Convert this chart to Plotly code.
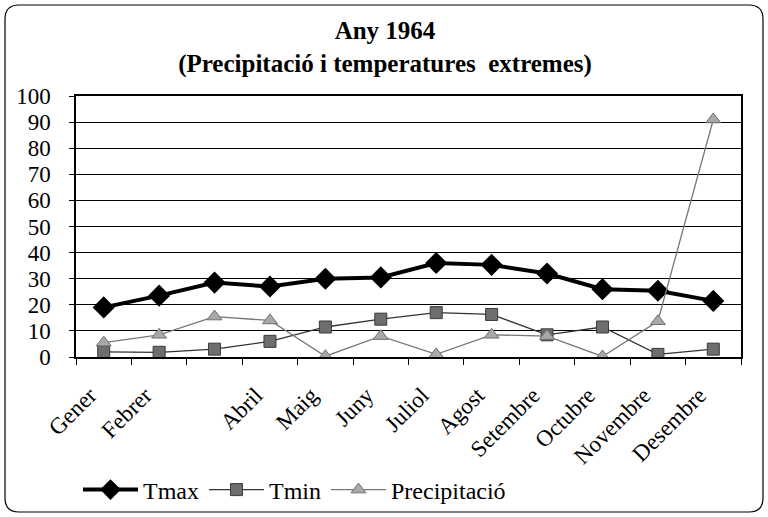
import plotly.graph_objects as go

months = ["Gener", "Febrer", "Març", "Abril", "Maig", "Juny", "Juliol",
          "Agost", "Setembre", "Octubre", "Novembre", "Desembre"]
month_tick_labels = ["Gener", "Febrer", "", "Abril", "Maig", "Juny", "Juliol",
                     "Agost", "Setembre", "Octubre", "Novembre", "Desembre"]
tmax = [19, 23.5, 28.5, 27, 30, 30.5, 36, 35.3, 32, 26, 25.4, 21.5]
tmin = [2, 1.8, 3, 6, 11.5, 14.5, 17, 16.3, 8.5, 11.5, 1, 3]
precip = [5.5, 8.5, 15.5, 14, 0.3, 8, 1, 8.5, 8, 0.2, 13.7, 91]
y_ticks = [0, 10, 20, 30, 40, 50, 60, 70, 80, 90, 100]

FONT = "Liberation Serif"

fig = go.Figure()
fig.add_trace(go.Scatter(
    x=months, y=tmax, name="Tmax", mode="lines+markers",
    line=dict(color="black", width=4),
    marker=dict(symbol="diamond", size=17, color="black"),
))
fig.add_trace(go.Scatter(
    x=months, y=tmin, name="Tmin", mode="lines+markers",
    line=dict(color="#333333", width=1.3),
    marker=dict(symbol="square", size=12, color="#6e6e6e",
                line=dict(color="#3a3a3a", width=1)),
))
fig.add_trace(go.Scatter(
    x=months, y=precip, name="Precipitació", mode="lines+markers",
    line=dict(color="#777777", width=1.3),
    marker=dict(symbol="triangle-up", size=13, color="#a8a8a8",
                line=dict(color="#707070", width=1)),
))

# plot area pixel geometry
L, R, T, B = 76, 741, 96, 357
W, H = 768, 517
pw, ph = R - L, B - T

def px(xp):
    return (xp - L) / pw

def py(yp):
    return (B - yp) / ph

# rounded outer border
x0, x1, y0, y1 = 5, 763, 5, 512
r = 14
path = (
    f"M {px(x0 + r)} {py(y0)} L {px(x1 - r)} {py(y0)} "
    f"Q {px(x1)} {py(y0)} {px(x1)} {py(y0 + r)} "
    f"L {px(x1)} {py(y1 - r)} "
    f"Q {px(x1)} {py(y1)} {px(x1 - r)} {py(y1)} "
    f"L {px(x0 + r)} {py(y1)} "
    f"Q {px(x0)} {py(y1)} {px(x0)} {py(y1 - r)} "
    f"L {px(x0)} {py(y0 + r)} "
    f"Q {px(x0)} {py(y0)} {px(x0 + r)} {py(y0)} Z"
)
fig.add_shape(type="path", path=path, xref="paper", yref="paper",
              line=dict(color="black", width=1.2), layer="below")

fig.update_layout(
    width=W, height=H,
    margin=dict(l=L, r=W - R, t=T, b=H - B, autoexpand=False),
    paper_bgcolor="white", plot_bgcolor="white",
    font=dict(family=FONT, color="black", size=20),
    title=dict(
        text="<b>Any 1964</b><br><b>(Precipitació i temperatures  extremes)</b>",
        x=px(385), xref="paper", xanchor="center",
        y=1 - 39 / H, yref="container", yanchor="middle",
        font=dict(family=FONT, size=25, color="black"),
    ),
    showlegend=True,
    legend=dict(
        orientation="h", x=px(78), y=py(490), xanchor="left", yanchor="middle",
        font=dict(family=FONT, size=24, color="black"),
        bgcolor="rgba(0,0,0,0)", tracegroupgap=0, itemwidth=55,
        itemsizing="trace",
    ),
)
fig.update_xaxes(
    type="category", categoryorder="array", categoryarray=months,
    range=[-0.5, len(months) - 0.5],
    tickmode="array", tickvals=months, ticktext=month_tick_labels,
    tickangle=-45, tickson="boundaries", ticks="outside", ticklen=6,
    tickcolor="black", showgrid=False, showline=True, linecolor="black",
    linewidth=1.5, mirror=True, zeroline=False, automargin=False,
    ticklabelstandoff=14, ticklabelshift=-14,
    tickfont=dict(family=FONT, size=23, color="black"),
)
fig.update_yaxes(
    range=[0, 100], tickmode="array", tickvals=y_ticks,
    ticks="outside", ticklen=5, tickcolor="black",
    showgrid=True, gridcolor="black", gridwidth=1,
    showline=True, linecolor="black", linewidth=1.5, mirror=True,
    zeroline=False, automargin=False, ticklabelstandoff=14,
    tickfont=dict(family=FONT, size=23, color="black"),
)

fig.write_html("out.html", config={"displayModeBar": False},
               post_script="document.body.style.margin='0';")
